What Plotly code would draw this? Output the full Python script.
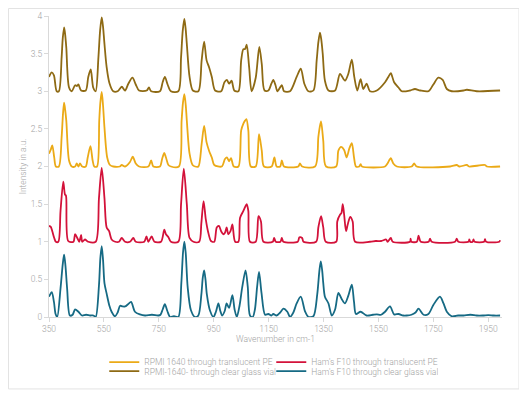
import plotly.graph_objects as go

# (wavenumber, intensity) readings per series
ham_glass = [(350,0.27),(360,0.33),(368,0.2),(374,0.04),(380,0.0),(392,0.38),(400,0.70),(405,0.83),(410,0.68),(416,0.38),(426,0.02),(436,0.03),(445,0.1),(457,0.07),(470,0.02),(485,0.03),(500,0.02),(512,0.02),(520,0.0),(532,0.42),(537,0.78),(542,0.94),(547,0.75),(552,0.45),(560,0.31),(570,0.15),(578,0.07),(590,0.01),(600,0.06),(609,0.15),(618,0.14),(627,0.14),(638,0.17),(649,0.2),(663,0.07),(681,0.035),(700,0.02),(725,0.03),(748,0.02),(756,0.03),(764,0.1),(772,0.17),(781,0.08),(791,0.0),(805,0.01),(821,0.0),(832,0.45),(838,0.85),(843,1.0),(848,0.85),(855,0.4),(867,0.09),(882,0.0),(894,0.02),(905,0.3),(910,0.52),(915,0.62),(920,0.5),(925,0.3),(936,0.09),(949,0.0),(958,0.07),(967,0.18),(974,0.08),(981,0.02),(990,0.08),(997,0.18),(1006,0.12),(1018,0.29),(1026,0.1),(1034,0.0),(1044,0.15),(1054,0.4),(1066,0.62),(1074,0.4),(1082,0.02),(1092,0.0),(1100,0.1),(1108,0.4),(1115,0.6),(1124,0.32),(1137,0.03),(1149,0.04),(1160,0.02),(1167,0.04),(1179,0.02),(1192,0.06),(1204,0.11),(1218,0.07),(1228,0.0),(1240,0.06),(1252,0.18),(1267,0.27),(1283,0.07),(1295,0.0),(1313,0.01),(1327,0.3),(1335,0.62),(1340,0.74),(1345,0.62),(1349,0.45),(1355,0.27),(1368,0.18),(1380,0.02),(1392,0.1),(1404,0.32),(1416,0.24),(1428,0.18),(1440,0.28),(1453,0.43),(1461,0.2),(1468,0.04),(1485,0.07),(1507,0.02),(1530,0.03),(1544,0.035),(1560,0.03),(1574,0.07),(1592,0.14),(1607,0.035),(1623,0.04),(1640,0.02),(1653,0.02),(1670,0.03),(1685,0.06),(1696,0.11),(1714,0.03),(1732,0.04),(1750,0.16),(1774,0.27),(1787,0.18),(1799,0.07),(1817,0.01),(1840,0.02),(1860,0.02),(1885,0.03),(1908,0.02),(1930,0.02),(1950,0.025),(1970,0.02),(1993,0.02)]

ham_pe = [(350,1.21),(356,1.2),(362,1.14),(369,1.05),(375,1.0),(384,1.0),(392,1.41),(402,1.8),(408,1.63),(412,1.61),(420,1.01),(439,1.0),(445,1.1),(453,1.05),(460,1.0),(467,1.09),(471,1.0),(481,1.03),(493,1.0),(520,1.0),(532,1.58),(542,1.98),(552,1.58),(560,1.19),(569,1.14),(578,1.03),(591,1.0),(605,1.0),(615,1.05),(627,1.0),(645,1.0),(657,1.05),(666,1.0),(697,1.0),(705,1.07),(712,1.0),(724,1.07),(734,1.0),(758,1.0),(770,1.16),(776,1.1),(785,1.06),(794,1.0),(821,1.0),(831,1.5),(841,1.97),(852,1.5),(862,1.05),(876,1.0),(897,1.0),(905,1.25),(913,1.54),(921,1.3),(929,1.14),(940,1.01),(952,1.0),(961,1.19),(969,1.21),(977,1.14),(985,1.1),(991,1.12),(997,1.19),(1003,1.1),(1011,1.14),(1018,1.23),(1028,1.0),(1040,1.0),(1046,1.32),(1058,1.41),(1064,1.46),(1070,1.5),(1076,1.41),(1082,1.0),(1103,1.0),(1113,1.34),(1122,1.27),(1131,1.0),(1165,1.0),(1170,1.05),(1176,1.0),(1193,1.0),(1198,1.05),(1204,1.0),(1256,1.0),(1262,1.06),(1272,1.05),(1277,1.0),(1323,1.0),(1331,1.19),(1341,1.34),(1349,1.19),(1358,1.0),(1396,1.0),(1400,1.27),(1410,1.36),(1415,1.38),(1420,1.5),(1425,1.36),(1432,1.14),(1438,1.23),(1447,1.33),(1456,1.27),(1465,1.0),(1519,1.0),(1540,1.01),(1560,1.01),(1578,1.03),(1583,1.0),(1595,1.05),(1602,1.0),(1665,1.0),(1667,1.04),(1670,1.0),(1690,1.0),(1696,1.08),(1704,1.0),(1733,1.0),(1738,1.04),(1744,1.0),(1829,1.0),(1835,1.04),(1841,1.0),(1878,1.0),(1881,1.03),(1884,1.0),(1893,1.0),(1896,1.03),(1900,1.0),(1935,1.0),(1938,1.035),(1942,1.0),(1990,1.0),(1993,1.02)]

rpmi_pe = [(350,2.17),(356,2.22),(362,2.28),(369,2.12),(375,2.0),(386,2.0),(396,2.39),(401,2.7),(405,2.85),(409,2.75),(413,2.61),(423,2.08),(433,2.0),(445,2.0),(451,2.04),(457,2.0),(463,2.04),(471,2.0),(484,2.0),(491,2.12),(501,2.27),(509,2.08),(515,2.0),(525,2.0),(533,2.61),(537,2.85),(542,2.99),(547,2.8),(552,2.52),(562,2.12),(572,2.02),(584,2.0),(608,2.0),(615,2.02),(627,2.0),(645,2.06),(655,2.13),(666,2.04),(678,2.0),(712,2.0),(722,2.08),(730,2.0),(754,2.0),(762,2.1),(770,2.18),(776,2.12),(785,2.02),(794,2.0),(823,2.0),(833,2.61),(838,2.85),(843,2.96),(848,2.82),(852,2.61),(862,2.17),(873,2.02),(882,2.0),(894,2.0),(906,2.3),(915,2.54),(924,2.32),(933,2.21),(943,2.12),(952,2.02),(979,2.0),(991,2.1),(998,2.12),(1006,2.07),(1013,2.11),(1023,2.0),(1040,2.0),(1050,2.48),(1058,2.57),(1064,2.61),(1069,2.63),(1076,2.48),(1085,2.0),(1103,2.0),(1115,2.43),(1125,2.21),(1133,2.0),(1161,2.0),(1171,2.12),(1179,2.0),(1192,2.0),(1198,2.08),(1206,2.0),(1258,2.0),(1264,2.04),(1272,2.0),(1319,2.0),(1331,2.39),(1336,2.52),(1341,2.6),(1349,2.34),(1359,2.0),(1396,2.0),(1404,2.21),(1414,2.26),(1425,2.22),(1434,2.12),(1444,2.24),(1453,2.31),(1461,2.12),(1468,2.0),(1480,2.0),(1485,2.03),(1490,2.0),(1574,2.0),(1583,2.04),(1595,2.11),(1604,2.04),(1617,2.0),(1671,2.0),(1680,2.04),(1689,2.0),(1811,2.0),(1835,2.02),(1845,2.0),(1872,2.02),(1880,2.0),(1938,2.02),(1945,2.0),(1993,2.0)]

rpmi_glass = [(350,3.19),(360,3.25),(368,3.21),(378,3.0),(386,3.0),(396,3.45),(400,3.7),(405,3.85),(409,3.75),(413,3.58),(423,3.05),(433,3.0),(445,3.08),(452,3.07),(457,3.09),(467,3.01),(484,3.01),(493,3.19),(502,3.29),(511,3.05),(520,3.0),(530,3.45),(536,3.8),(542,3.98),(547,3.85),(552,3.63),(560,3.32),(570,3.11),(584,3.0),(600,3.0),(615,3.06),(627,3.01),(639,3.1),(654,3.18),(666,3.09),(678,3.01),(706,3.01),(714,3.05),(722,3.0),(754,3.0),(764,3.12),(772,3.19),(782,3.09),(794,3.0),(821,3.0),(831,3.45),(837,3.8),(843,3.96),(848,3.82),(852,3.63),(862,3.19),(874,3.01),(894,3.0),(906,3.41),(915,3.66),(924,3.41),(933,3.32),(943,3.19),(955,3.01),(977,3.0),(989,3.12),(998,3.15),(1006,3.1),(1015,3.14),(1025,3.01),(1040,3.0),(1050,3.41),(1058,3.56),(1064,3.56),(1070,3.62),(1079,3.32),(1088,3.0),(1103,3.18),(1116,3.59),(1125,3.36),(1135,3.01),(1149,3.01),(1160,3.1),(1167,3.15),(1175,3.08),(1182,3.0),(1198,3.08),(1206,3.0),(1228,3.0),(1252,3.19),(1267,3.3),(1280,3.1),(1295,3.0),(1313,3.01),(1325,3.41),(1331,3.65),(1337,3.78),(1342,3.68),(1347,3.5),(1355,3.14),(1368,3.01),(1392,3.01),(1410,3.23),(1428,3.14),(1440,3.23),(1453,3.42),(1462,3.19),(1473,3.01),(1485,3.16),(1495,3.03),(1507,3.1),(1519,3.0),(1544,3.01),(1574,3.12),(1586,3.19),(1595,3.24),(1607,3.12),(1623,3.05),(1635,3.0),(1665,3.01),(1683,3.03),(1702,3.01),(1732,3.0),(1750,3.09),(1768,3.18),(1784,3.15),(1799,3.03),(1817,3.0),(1860,3.01),(1872,3.02),(1908,3.0),(1993,3.01)]

x_ticks = [350, 550, 750, 950, 1150, 1350, 1550, 1750, 1950]
y_ticks = [0, 0.5, 1, 1.5, 2, 2.5, 3, 3.5, 4]

series = [
    ("RPMI 1640 through translucent PE", rpmi_pe, "#EBAA17", "legend"),
    ("Ham's F10 through translucent PE", ham_pe, "#D3123A", "legend"),
    ("RPMI-1640- through clear glass vial", rpmi_glass, "#8E6A14", "legend2"),
    ("Ham's F10 through clear glass vial", ham_glass, "#166A84", "legend2"),
]

FONT = "Roboto, 'Open Sans', sans-serif"
GREY = "#a3a3a3"

fig = go.Figure()
for name, pts, color, leg in series:
    pts = sorted(pts)
    xs = [p[0] for p in pts]
    ys = [p[1] for p in pts]
    fig.add_trace(go.Scatter(x=xs, y=ys, name=name, mode="lines",
                             line=dict(color=color, width=1.8, shape="spline", smoothing=0.8),
                             legend=leg))

legend_common = dict(orientation="h", xanchor="left", yanchor="middle",
                     font=dict(family=FONT, size=8.5, color=GREY, weight=300),
                     itemwidth=30, entrywidth=122, entrywidthmode="pixels",
                     bgcolor="rgba(0,0,0,0)", tracegroupgap=0, itemclick=False)

fig.update_layout(
    width=519, height=388,
    margin=dict(l=41, r=25, t=8, b=79, autoexpand=False),
    paper_bgcolor="white", plot_bgcolor="white",
    font=dict(family=FONT, size=8.5, color=GREY, weight=300),
    xaxis=dict(range=[350, 2000], tickvals=x_ticks, ticktext=[str(v) for v in x_ticks],
               showgrid=False, zeroline=False, showline=True, linecolor="#d9d9d9", linewidth=1,
               ticks="outside", ticklen=4, tickcolor="#d9d9d9", automargin=False,
               tickfont=dict(family=FONT, size=8.5, color=GREY),
               title=dict(text="Wavenumber in cm-1", standoff=2,
                          font=dict(family=FONT, size=8.5, color=GREY))),
    yaxis=dict(range=[0, 4], tickvals=y_ticks, ticktext=[("%g" % v) for v in y_ticks],
               showgrid=False, zeroline=False, showline=True, linecolor="#d9d9d9", linewidth=1,
               ticks="outside", ticklen=4, tickcolor="#d9d9d9", automargin=False,
               tickfont=dict(family=FONT, size=8.5, color=GREY),
               title=dict(text="Intensity in a.u.", standoff=2,
                          font=dict(family=FONT, size=8.5, color=GREY))),
    legend=dict(x=0.122, y=-0.150, **legend_common),
    legend2=dict(x=0.122, y=-0.180, **legend_common),
    shapes=[dict(type="rect", xref="paper", yref="paper",
                 x0=-0.0894, x1=1.0375, y0=-0.239, y1=1.0249,
                 line=dict(color="#e3e3e3", width=1), fillcolor="rgba(0,0,0,0)", layer="below")],
)

fig.write_html("out.html")
